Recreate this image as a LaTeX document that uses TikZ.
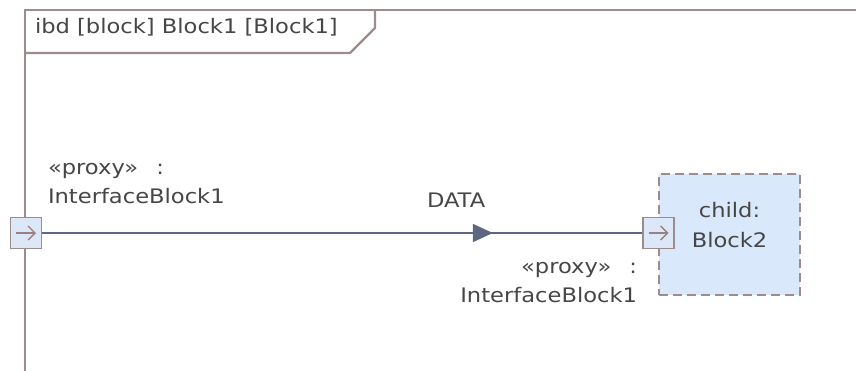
\documentclass[tikz,border=0pt]{standalone}
\usepackage{fontspec}
\setmainfont{DejaVu Sans}[FakeStretch=1.13]
\usetikzlibrary{arrows.meta,decorations.markings}
\definecolor{framec}{HTML}{9C8C8C}
\definecolor{connc}{HTML}{5D6781}
\definecolor{portfill}{HTML}{DCE8F8}
\definecolor{blockfill}{HTML}{DAE8FB}
\definecolor{txtc}{HTML}{464646}
\definecolor{portarrow}{HTML}{9A8080}
\tikzset{
  lbl/.style={inner sep=0pt, outer sep=0pt, text=txtc, font=\fontsize{20}{29}\selectfont},
  portbox/.style={draw=framec, line width=1.5pt, fill=portfill, minimum width=31pt, minimum height=31pt, inner sep=0pt},
  blockbox/.style={draw=framec, line width=1.6pt, fill=blockfill, dash pattern=on 9pt off 5pt, minimum width=141pt, minimum height=121pt, inner sep=0pt},
  framel/.style={draw=framec, line width=2.2pt},
  conn/.style={draw=connc, line width=1.6pt},
  portarr/.style={draw=portarrow, line width=1.4pt, -{Straight Barb[length=7pt,width=14pt]}}
}
\begin{document}
\begin{tikzpicture}[x=1pt,y=-1pt]
\useasboundingbox (0,0) rectangle (856,370);
% frame
\draw[framel] (25,372) -- (25,10) -- (858,10);
\draw[framel] (25,53) -- (350,53) -- (375,28) -- (375,10);
\node[lbl, anchor=base west] (title) at (35,33) {ibd [block] Block1 [Block1]};
% block
\node[blockbox] (blk) at (729.5,234.5) {};
\node[lbl, anchor=base] (blkA) at (729.5,217) {child:};
\node[lbl, anchor=base] (blkB) at (729.5,247) {Block2};
% ports
\node[portbox] (portL) at (26,233) {};
\node[portbox] (portR) at (658.5,233) {};
\draw[portarr] ([xshift=-10pt]portL.center) -- ([xshift=10pt]portL.center);
\draw[portarr] ([xshift=-10pt]portR.center) -- ([xshift=10pt]portR.center);
% connector
\draw[conn, postaction={decorate}, decoration={markings, mark=at position 0.751 with {\arrow[connc]{Triangle[length=20pt,width=18pt]}}}] (portL.east) -- (portR.west);
\node[lbl, anchor=base west] (dat) at (427,207) {DATA};
% labels
\node[lbl, anchor=base west] (lA1) at (48,174) {«proxy»\hspace{18pt}:};
\node[lbl, anchor=base west] (lA2) at (48,203) {InterfaceBlock1};
\node[lbl, anchor=base east] (lB1) at (637,273) {«proxy»\hspace{18pt}:};
\node[lbl, anchor=base east] (lB2) at (637,302) {InterfaceBlock1};
\end{tikzpicture}
\end{document}
